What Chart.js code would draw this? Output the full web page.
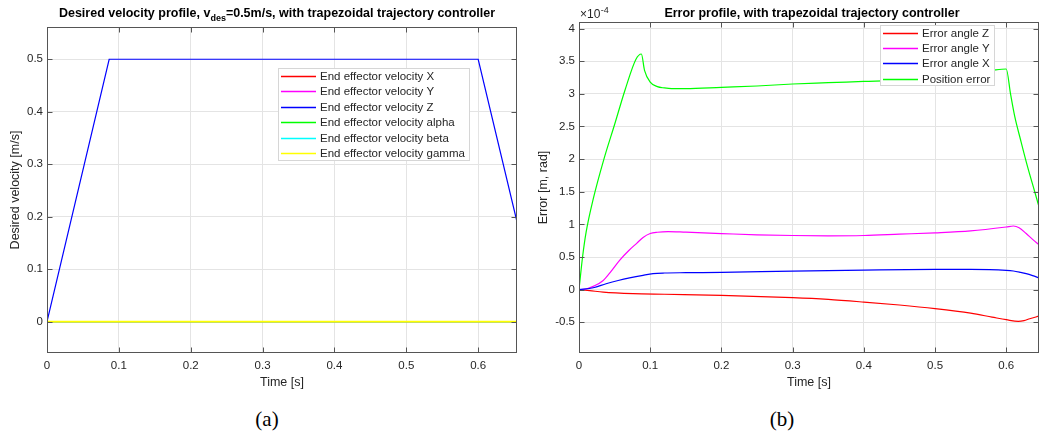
<!DOCTYPE html>
<html>
<head>
<meta charset="utf-8">
<script src="https://cdn.jsdelivr.net/npm/chart.js@4.4.1/dist/chart.umd.min.js"></script>
<style>
  body { margin: 0; background: #fff; width: 1040px; height: 439px; overflow: hidden; position: relative; }
  .pane { position: absolute; top: 0; width: 520px; height: 400px; }
  canvas { display: block; }
  .cap { position: absolute; top: 407px; font-family: "Liberation Serif", "DejaVu Serif", serif; font-size: 21px; color: #000; transform: translateX(-50%); }
</style>
</head>
<body>
<div class="pane" style="left:0"><canvas id="velChart" width="520" height="400"></canvas></div>
<div class="pane" style="left:520px"><canvas id="errChart" width="520" height="400"></canvas></div>
<div class="cap" style="left:267px">(a)</div>
<div class="cap" style="left:782px">(b)</div>
<script>
// ---- data ----
const timeTicks = [0, 0.1, 0.2, 0.3, 0.4, 0.5, 0.6];
const velTicks = [0, 0.1, 0.2, 0.3, 0.4, 0.5];
const errTicks = [-0.5, 0, 0.5, 1, 1.5, 2, 2.5, 3, 3.5, 4];

// (a) desired velocity profile
const tVel = [0, 0.0865, 0.6, 0.654];
const velX = [0, 0, 0, 0];
const velY = [0, 0, 0, 0];
const velZ = [0, 0.5, 0.5, 0.19];
const velAlpha = [0, 0, 0, 0];
const velBeta = [0, 0, 0, 0];
const velGamma = [0, 0, 0, 0];
const velLabels = ['End effector velocity X', 'End effector velocity Y', 'End effector velocity Z',
  'End effector velocity alpha', 'End effector velocity beta', 'End effector velocity gamma'];

// (b) error profile, values in units of 1e-4
const tErrZ = [0, 0.015, 0.034, 0.076, 0.12, 0.2, 0.3, 0.35, 0.4, 0.45, 0.5, 0.55, 0.58, 0.6, 0.617, 0.625, 0.633, 0.646];
const errZ = [0, -0.015, -0.037, -0.06, -0.07, -0.088, -0.123, -0.15, -0.19, -0.235, -0.29, -0.36, -0.42, -0.46, -0.487, -0.475, -0.445, -0.405];

const tErrY = [0, 0.01, 0.02, 0.034, 0.045, 0.057, 0.07, 0.081, 0.09, 0.1, 0.11, 0.125, 0.15, 0.2, 0.25, 0.3, 0.35, 0.4, 0.45, 0.5, 0.55, 0.6, 0.61, 0.618, 0.628, 0.637, 0.646];
const errY = [0, 0.01, 0.05, 0.14, 0.28, 0.45, 0.6, 0.71, 0.8, 0.86, 0.88, 0.89, 0.88, 0.86, 0.84, 0.83, 0.825, 0.83, 0.85, 0.87, 0.9, 0.96, 0.975, 0.95, 0.86, 0.77, 0.69];

const tErrX = [0, 0.02, 0.038, 0.055, 0.071, 0.09, 0.104, 0.12, 0.15, 0.2, 0.3, 0.4, 0.5, 0.55, 0.6, 0.61, 0.62, 0.628, 0.637, 0.646];
const errX = [0, 0.03, 0.09, 0.14, 0.18, 0.22, 0.245, 0.255, 0.26, 0.265, 0.285, 0.3, 0.31, 0.31, 0.296, 0.286, 0.265, 0.245, 0.215, 0.18];

const tErrPos = [0, 0.005, 0.01, 0.02, 0.035, 0.05, 0.065, 0.08, 0.0876, 0.092, 0.1, 0.11, 0.12, 0.13, 0.15, 0.2, 0.25, 0.3, 0.35, 0.4, 0.45, 0.5, 0.55, 0.58, 0.6, 0.606, 0.612, 0.62, 0.63, 0.64, 0.646];
const errPos = [0, 0.5, 0.88, 1.39, 2.0, 2.53, 3.07, 3.53, 3.61, 3.36, 3.18, 3.11, 3.09, 3.08, 3.08, 3.1, 3.12, 3.15, 3.17, 3.19, 3.21, 3.27, 3.32, 3.36, 3.38, 3.0, 2.65, 2.3, 1.88, 1.5, 1.27];
const errLabels = ['Error angle Z', 'Error angle Y', 'Error angle X', 'Position error'];

// ---- styling ----
const FONT = '"Liberation Sans", Arial, Helvetica, sans-serif';
const textCol = '#262626';
const gridCol = '#e4e4e4';

const pts = (t, v) => t.map((x, i) => ({ x: x, y: v[i] }));

// box with inward tick marks, like matlab
const boxAxes = {
  id: 'boxAxes',
  afterDatasetsDraw(chart) {
    const { ctx, chartArea: a, scales } = chart;
    const L = Math.round(a.left) + 0.5, R = Math.round(a.right) - 0.5;
    const T = Math.round(a.top) + 0.5, B = Math.round(a.bottom) - 0.5;
    ctx.save();
    ctx.strokeStyle = '#555';
    ctx.lineWidth = 1;
    ctx.strokeRect(L, T, R - L, B - T);
    ctx.beginPath();
    scales.x.ticks.forEach(t => {
      const px = Math.round(scales.x.getPixelForValue(t.value)) + 0.5;
      ctx.moveTo(px, B); ctx.lineTo(px, B - 5);
      ctx.moveTo(px, T); ctx.lineTo(px, T + 5);
    });
    scales.y.ticks.forEach(t => {
      const py = Math.round(scales.y.getPixelForValue(t.value)) + 0.5;
      ctx.moveTo(L, py); ctx.lineTo(L + 5, py);
      ctx.moveTo(R, py); ctx.lineTo(R - 5, py);
    });
    ctx.stroke();
    ctx.restore();
  }
};

// legend box drawn on top of the lines
const boxLegend = {
  id: 'boxLegend',
  afterDatasetsDraw(chart, args, opts) {
    const ctx = chart.ctx;
    const sets = chart.data.datasets;
    ctx.save();
    ctx.font = '11.5px ' + FONT;
    let tw = 0;
    sets.forEach(d => { tw = Math.max(tw, ctx.measureText(d.label).width); });
    const w = Math.round(3 + 35 + 4 + tw + 5);
    const h = Math.round(8.5 + (sets.length - 1) * opts.rowH + 7);
    ctx.fillStyle = '#fff';
    ctx.fillRect(opts.x, opts.y, w, h);
    ctx.strokeStyle = '#d6d6d6';
    ctx.lineWidth = 1;
    ctx.strokeRect(opts.x + 0.5, opts.y + 0.5, w - 1, h - 1);
    ctx.textBaseline = 'middle';
    sets.forEach((d, i) => {
      const cy = Math.round(opts.y + 8 + i * opts.rowH) + 0.5;
      ctx.beginPath();
      ctx.strokeStyle = d.borderColor;
      ctx.lineWidth = 1.6;
      ctx.moveTo(opts.x + 3, cy);
      ctx.lineTo(opts.x + 38, cy);
      ctx.stroke();
      ctx.fillStyle = textCol;
      ctx.fillText(d.label, opts.x + 42, cy);
    });
    ctx.restore();
  }
};

// title with optional subscript part, plus axis exponent
const plotTitle = {
  id: 'plotTitle',
  afterDraw(chart, args, opts) {
    const ctx = chart.ctx;
    ctx.save();
    ctx.fillStyle = '#000';
    ctx.textBaseline = 'alphabetic';
    const fMain = 'bold 12.5px ' + FONT, fSub = 'bold 9px ' + FONT;
    let total = 0;
    const widths = opts.parts.map(p => {
      ctx.font = p.sub ? fSub : fMain;
      const w = ctx.measureText(p.text).width;
      total += w;
      return w;
    });
    let x = opts.x - total / 2;
    opts.parts.forEach((p, i) => {
      ctx.font = p.sub ? fSub : fMain;
      ctx.fillText(p.text, x, opts.y + (p.sub ? 4 : 0));
      x += widths[i];
    });
    if (opts.exponent) {
      ctx.fillStyle = textCol;
      ctx.font = '12px ' + FONT;
      const e = opts.exponent;
      ctx.fillText('\u00d710', e.x, e.y);
      const w = ctx.measureText('\u00d710').width;
      ctx.font = '9px ' + FONT;
      ctx.fillText(e.power, e.x + w + 0.5, e.y - 5);
    }
    ctx.restore();
  }
};

function axes(xMax, yMin, yMax, yTicks, yTitle, yWidth, yTitlePad) {
  return {
    x: {
      type: 'linear', min: 0, max: xMax,
      afterBuildTicks: s => { s.ticks = timeTicks.map(v => ({ value: v })); },
      afterFit: s => { s.height = 47; },
      grid: { color: gridCol, drawTicks: false },
      border: { display: false },
      ticks: { padding: 6, color: textCol, font: { family: FONT, size: 11.5 }, maxRotation: 0, autoSkip: false, callback: v => String(v) },
      title: { display: true, text: 'Time [s]', color: textCol, font: { family: FONT, size: 12.5 }, padding: { top: 0, bottom: 9.5 } }
    },
    y: {
      type: 'linear', min: yMin, max: yMax,
      afterBuildTicks: s => { s.ticks = yTicks.map(v => ({ value: v })); },
      afterFit: s => { s.width = yWidth; },
      grid: { color: gridCol, drawTicks: false },
      border: { display: false },
      ticks: { padding: 4, color: textCol, font: { family: FONT, size: 11.5 }, autoSkip: false, callback: v => String(v) },
      title: { display: true, text: yTitle, color: textCol, font: { family: FONT, size: 12.5 }, padding: { top: yTitlePad, bottom: 0 } }
    }
  };
}

const velColors = ['#ff0000', '#ff00ff', '#0000ff', '#00ff00', '#00ffff', '#ffff00'];
const velSeries = [velX, velY, velZ, velAlpha, velBeta, velGamma];

new Chart(document.getElementById('velChart'), {
  type: 'line',
  data: {
    datasets: velSeries.map((s, i) => ({
      label: velLabels[i],
      data: pts(tVel, s),
      borderColor: velColors[i],
      borderWidth: i === velSeries.length - 1 ? 1.8 : 1.2,
      pointRadius: 0,
      tension: 0,
      order: velSeries.length - i
    }))
  },
  options: {
    responsive: false,
    animation: false,
    devicePixelRatio: 1,
    layout: { padding: { top: 27, right: 3, left: 0, bottom: 0 } },
    scales: axes(0.654, -0.06, 0.5615, velTicks, 'Desired velocity [m/s]', 47, 8.5),
    plugins: {
      legend: { display: false },
      tooltip: { enabled: false },
      boxLegend: { x: 278, y: 68, rowH: 15.4 },
      plotTitle: {
        x: 277, y: 17,
        parts: [{ text: 'Desired velocity profile, v' }, { text: 'des', sub: true },
          { text: '=0.5m/s, with trapezoidal trajectory controller' }]
      }
    }
  },
  plugins: [boxAxes, boxLegend, plotTitle]
});

const errColors = ['#ff0000', '#ff00ff', '#0000ff', '#00ff00'];
const errTimes = [tErrZ, tErrY, tErrX, tErrPos];
const errSeries = [errZ, errY, errX, errPos];

new Chart(document.getElementById('errChart'), {
  type: 'line',
  data: {
    datasets: errSeries.map((s, i) => ({
      label: errLabels[i],
      data: pts(errTimes[i], s),
      borderColor: errColors[i],
      borderWidth: 1.2,
      pointRadius: 0,
      cubicInterpolationMode: 'monotone',
      order: errSeries.length - i
    }))
  },
  options: {
    responsive: false,
    animation: false,
    devicePixelRatio: 1,
    layout: { padding: { top: 22, right: 1, left: 0, bottom: 0 } },
    scales: axes(0.646, -0.97, 4.1, errTicks, 'Error [m, rad]', 59, 16.5),
    plugins: {
      legend: { display: false },
      tooltip: { enabled: false },
      boxLegend: { x: 360, y: 25, rowH: 15.2 },
      plotTitle: {
        x: 292, y: 17,
        parts: [{ text: 'Error profile, with trapezoidal trajectory controller' }],
        exponent: { x: 60, y: 18, power: '-4' }
      }
    }
  },
  plugins: [boxAxes, boxLegend, plotTitle]
});
</script>
</body>
</html>
